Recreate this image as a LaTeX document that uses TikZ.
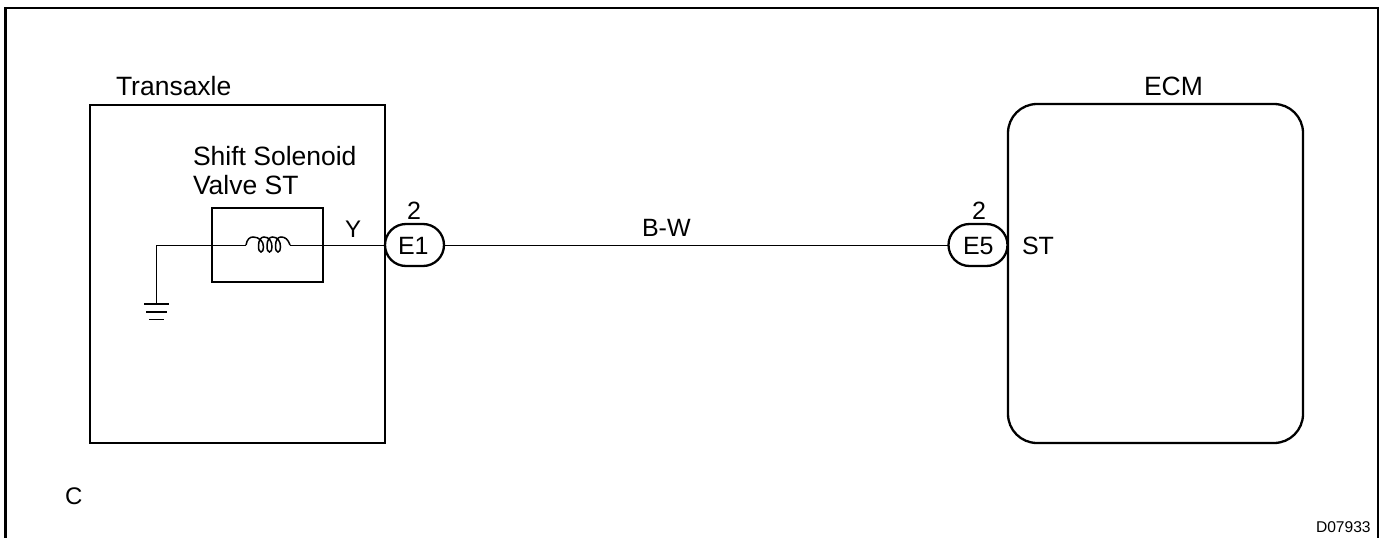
\documentclass[tikz,border=0pt]{standalone}
\usepackage{fontspec}
\setmainfont{Liberation Sans}
\usetikzlibrary{shapes.misc}
\begin{document}
\begin{tikzpicture}[x=1pt,y=-1pt,
  thick box/.style={draw=black,line width=2.3pt,rectangle,inner sep=0pt,outer sep=0pt},
  capsule/.style={draw=black,fill=white,line width=2.3pt,rounded rectangle,inner sep=0pt,outer sep=0pt,minimum width=59pt,minimum height=42pt},
  wire/.style={draw=black,line width=0.85pt},
  lbl/.style={inner sep=0pt,outer sep=0pt,anchor=base west,font=\fontsize{26.5}{26.5}\selectfont,text=black}]
\useasboundingbox (0,0) rectangle (1384,538);
\fill[white] (0,0) rectangle (1384,538);
% frame
\draw[black,line width=2.8pt] (5.5,540) -- (5.5,8) -- (1378,8) -- (1378,540);
% boxes
\node[thick box,minimum width=295pt,minimum height=338pt] (trans) at (237.5,274) {};
\node[thick box,rounded corners=29pt,minimum width=295pt,minimum height=339pt] (ecm) at (1155.5,273.5) {};
\node[thick box,minimum width=111pt,minimum height=74pt] (sol) at (267.5,245) {};
% junction connectors
\node[capsule] (e1) at (414.5,245) {};
\node[capsule] (e5) at (978,245) {};
% coil
\coordinate (coilL) at (246,245);
\coordinate (coilR) at (290,245);
\coordinate (gndTop) at (156,245);
\coordinate (gnd) at (156,304);
\draw[draw=black,line width=1.5pt] (coilL) .. controls (247,239) and (250,237) .. (253,237)
  .. controls (259,237) and (263.5,241) .. (263.5,247)
  .. controls (263.5,250) and (262.5,252) .. (261,252)
  .. controls (259.5,252) and (258.5,250) .. (258.5,246)
  .. controls (258.5,240) and (261,237) .. (264,237)
  .. controls (269,237) and (272,241) .. (272,247)
  .. controls (272,250) and (271,252) .. (269.5,252)
  .. controls (268,252) and (267,250) .. (267,246)
  .. controls (267,240) and (269.5,237) .. (272.5,237)
  .. controls (277.5,237) and (280.5,241) .. (280.5,247)
  .. controls (280.5,250) and (279.5,252) .. (278,252)
  .. controls (276.5,252) and (275.5,250) .. (275.5,246)
  .. controls (275.5,240) and (278,237) .. (281,237)
  .. controls (285,237) and (288,239) .. (coilR);
% wires
\draw[wire] (gnd) -- (gndTop) -- (coilL);
\draw[wire] (coilR) -- (e1.west);
\draw[wire] (e1.east) -- (e5.west);
% ground
\draw[black,line width=2.2pt] (144,304) -- (169,304);
\draw[black,line width=1.4pt] (146,312) -- (167,312);
\draw[black,line width=1.4pt] (149,319.5) -- (164,319.5);
% labels
\node[lbl] (tTrans) at (116,95) {Transaxle};
\node[lbl] (tEcm) at (1144,95) {ECM};
\node[lbl] (tSol1) at (193,165) {Shift Solenoid};
\node[lbl] (tSol2) at (193,194) {Valve ST};
\node[lbl,font=\fontsize{24}{24}\selectfont] (tY) at (345,237) {Y};
\node[lbl,font=\fontsize{25}{25}\selectfont] (t2a) at (407,219) {2};
\node[lbl,font=\fontsize{25}{25}\selectfont] (t2b) at (972,219) {2};
\node[lbl,font=\fontsize{25}{25}\selectfont] (tE1) at (398,254) {E1};
\node[lbl,font=\fontsize{25}{25}\selectfont] (tE5) at (963,254) {E5};
\node[lbl,font=\fontsize{25}{25}\selectfont] (tST) at (1022,254) {ST};
\node[lbl,font=\fontsize{25}{25}\selectfont] (tBW) at (642,236) {B-W};
\node[lbl,font=\fontsize{24}{24}\selectfont] (tC) at (65,504) {C};
\node[lbl,font=\fontsize{15.6}{15.6}\selectfont] (tD) at (1316,532) {D07933};
\end{tikzpicture}
\end{document}
